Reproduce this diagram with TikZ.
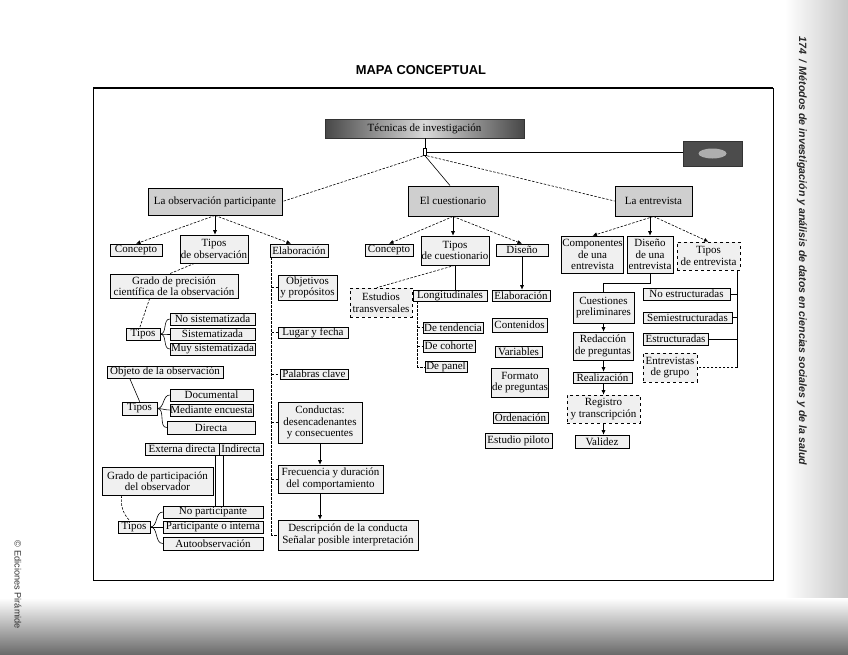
\documentclass[tikz,border=0pt]{standalone}
\usepackage{fontspec}
\setmainfont{Liberation Serif}
\newfontfamily\hsans{Liberation Sans}
\usetikzlibrary{arrows.meta,backgrounds,calc}
\tikzset{
  box/.style={draw=black, line width=0.6pt, fill=gray!12, inner sep=0.5pt, align=center,
    font=\fontsize{11}{11.5}\selectfont},
  mainbox/.style={fill=gray!38, line width=0.9pt},
  titlebox/.style={left color=black!72, right color=black!72, middle color=black!15, draw=black!80},
  darkbox/.style={fill=black!70, draw=black!80},
  dbox/.style={dashed},
  dsh/.style={dash pattern=on 2.5pt off 1.5pt, line width=0.6pt},
  ln/.style={line width=0.6pt},
  arr/.style={-{Latex[length=4.5pt,width=4pt]}},
}
\newcommand\bx[7][]{\node[box,#1,minimum width={(#4-#2)*1pt},minimum height={(#5-#3)*1pt}] (#6) at ({(#2+#4)/2},{(#3+#5)/2}) {#7};}
\begin{document}
\begin{tikzpicture}[x=1pt,y=-1pt]
\useasboundingbox (0,0) rectangle (848,654);
\fill[white] (0,0) rectangle (848,654);
\shade[left color=white, right color=black!22] (785,0) rectangle (848,600);
\shade[top color=white, bottom color=black!58] (0,598) rectangle (848,654);

% page texts
\node[font=\hsans\bfseries\fontsize{12.9}{14}\selectfont] (mt) at (421,70) {MAPA CONCEPTUAL};
\node[rotate=-90, font=\hsans\bfseries\itshape\fontsize{10.6}{12}\selectfont, text=black!85] (hdr) at (802,251)
  {174 \,/\, Métodos de investigación y análisis de datos en ciencias sociales y de la salud};
\node[rotate=-90, font=\hsans\fontsize{9.2}{10}\selectfont, text=black!80] (cpy) at (18,585) {© Ediciones Pirámide};

% frame
\draw[line width=0.9pt] (93,88) rectangle (773,580);
\draw[line width=1.6pt] (93,88) -- (773,88);

% top level
\bx[titlebox]{325}{119}{524}{138}{tec}{Técnicas de investigación}
\node[draw, fill=white, line width=0.6pt, minimum width=3.5pt, minimum height=7pt, inner sep=0pt] (jn) at (425,152) {};
\bx[darkbox]{683}{141}{742}{166}{rb}{}
\fill[white, opacity=0.55] (rb.center) ellipse (14pt and 5pt);
\bx[mainbox]{148}{188}{282}{215}{obs}{La observación participante}
\bx[mainbox]{408}{186}{498}{216}{cues}{El cuestionario}
\bx[mainbox]{615}{186}{692}{216}{ent}{La entrevista}

% observacion participante
\bx{110}{244}{162}{256}{con1}{Concepto}
\bx{180}{235}{248}{263}{tob}{Tipos\\de observación}
\bx{270}{244}{328}{257}{ela1}{Elaboración}
\bx{110}{274}{238}{298}{gpc}{Grado de precisión\\científica de la observación}
\bx{126}{328}{160}{340}{tA}{Tipos}
\bx{170}{313}{255}{325}{ns}{No sistematizada}
\bx{170}{328}{255}{340}{si}{Sistematizada}
\bx{170}{343}{255}{355}{ms}{Muy sistematizada}
\bx{122}{402}{157}{415}{tB}{Tipos}
\bx{170}{389}{253}{401}{doc}{Documental}
\bx{170}{404}{253}{416}{me}{Mediante encuesta}
\bx{167}{421}{255}{434}{dir}{Directa}
\bx{145}{443}{219}{455}{ed}{Externa directa}
\bx{219}{443}{263}{455}{ind}{Indirecta}
\bx{118}{521}{150}{533}{tC}{Tipos}
\bx{163}{506}{263}{518}{np}{No participante}
\bx{163}{521}{263}{533}{pi}{Participante o interna}
\bx{163}{537}{263}{550}{ao}{Autoobservación}

\begin{scope}[on background layer]
\draw[dsh] ([xshift=18pt]gpc.south west) .. controls (108,350) and (108,420) .. (122,467) coordinate (gpotop);
\end{scope}
\bx{107}{366}{223}{378}{obj}{Objeto de la observación}
\bx{102}{467}{213}{495}{gpo}{Grado de participación\\del observador}

% elaboracion column
\bx{278}{275}{337}{300}{obp}{Objetivos\\y propósitos}
\bx{278}{327}{348}{338}{luf}{Lugar y fecha}
\bx{280}{369}{348}{379}{pc}{Palabras clave}
\bx{278}{402}{362}{443}{cdc}{Conductas:\\desencadenantes\\y consecuentes}
\bx{278}{465}{383}{493}{fdc}{Frecuencia y duración\\del comportamiento}
\bx{278}{520}{418}{550}{dsc}{Descripción de la conducta\\Señalar posible interpretación}

% cuestionario
\bx{365}{244}{413}{256}{con2}{Concepto}
\bx{422}{236}{488}{265}{tcu}{Tipos\\de cuestionario}
\bx{496}{244}{548}{256}{dis2}{Diseño}
\bx[dbox]{350}{288}{412}{317}{etr}{Estudios\\transversales}
\bx{413}{290}{487}{301}{lon}{Longitudinales}
\bx{423}{322}{483}{333}{dte}{De tendencia}
\bx{423}{340}{475}{352}{dco}{De cohorte}
\bx{425}{362}{467}{372}{dpa}{De panel}
\bx{492}{290}{550}{301}{ela2}{Elaboración}
\bx{492}{318}{547}{332}{cnt}{Contenidos}
\bx{495}{346}{542}{357}{var}{Variables}
\bx{492}{368}{548}{397}{fdp}{Formato\\de preguntas}
\bx{493}{412}{548}{423}{ord}{Ordenación}
\bx{485}{433}{552}{448}{epi}{Estudio piloto}

% entrevista
\bx{562}{236}{623}{273}{cue}{Componentes\\de una\\entrevista}
\bx{627}{236}{673}{273}{due}{Diseño\\de una\\entrevista}
\bx[dbox]{677}{242}{740}{270}{tie}{Tipos\\de entrevista}
\bx{573}{292}{634}{323}{cpr}{Cuestiones\\preliminares}
\bx{643}{288}{730}{300}{nes}{No estructuradas}
\bx{643}{312}{732}{323}{ses}{Semiestructuradas}
\bx{643}{333}{708}{345}{est}{Estructuradas}
\bx[dbox]{643}{353}{697}{382}{edg}{Entrevistas\\de grupo}
\bx{573}{332}{633}{360}{rdp}{Redacción\\de preguntas}
\bx{573}{372}{632}{383}{rea}{Realización}
\bx[dbox]{567}{395}{640}{423}{ryt}{Registro\\y transcripción}
\bx{575}{435}{629}{448}{val}{Validez}

% ---- connectors: top
\draw[ln] (tec.south -| jn.north) -- (jn.north);
\draw[ln] (jn.east) -- (jn.east -| rb.west);
\draw[dsh] (jn.south west) -- (obs.east);
\draw[ln] (jn.south) -- ([xshift=-3pt]cues.north);
\draw[dsh] (jn.south east) -- (ent.west);

% observacion
\draw[dsh,arr] (obs.south) -- (con1.north);
\draw[ln,arr] (obs.south) -- (obs.south |- tob.north);
\draw[dsh,arr] (obs.south) -- ([xshift=-8pt]ela1.north);
\draw[dsh] ([xshift=15pt]tob.south west) -- ([xshift=60pt]gpc.north west);
\draw[dsh] ([xshift=40pt]gpc.south west) -- ([xshift=14pt]tA.north west);
\foreach \c in {ns,si,ms} \draw[ln] (tA.east) to[out=0,in=180] (\c.west);
\draw[ln] ([xshift=23pt]obj.south west) -- ([xshift=18pt]tB.north west);
\foreach \c in {doc,me,dir} \draw[ln] (tB.east) to[out=0,in=180] (\c.west);
\draw[dsh] ([xshift=20pt]gpo.south west) to[bend right=25] ([xshift=12pt]tC.north west);
\foreach \c in {np,pi,ao} \draw[ln] (tC.east) to[out=0,in=180] (\c.west);
\draw[ln] ([xshift=-4pt]ed.south east) -- ([xshift=-4pt]ed.south east |- np.north);
\draw[ln] ([xshift=5pt]ind.south west) -- ([xshift=5pt]ind.south west |- np.north);

% elaboracion
\coordinate (ev) at ([xshift=2pt]ela1.south west);
\draw[dsh] (ev) |- (dsc.west);
\foreach \c in {obp,luf,pc,cdc,fdc} \draw[dsh] (ev |- \c.west) -- (\c.west);
\draw[ln,arr] (cdc.south) -- (cdc.south |- fdc.north);
\draw[ln,arr] (cdc.south |- fdc.south) -- (cdc.south |- dsc.north);

% cuestionario
\draw[dsh,arr] (cues.south) -- (con2.north);
\draw[ln,arr] (cues.south) -- (cues.south |- tcu.north);
\draw[dsh,arr] (cues.south) -- (dis2.north);
\draw[dsh] (tcu.south) -- ([xshift=27pt]etr.north west);
\draw[ln] (tcu.south) -- (tcu.south |- lon.north);
\coordinate (lv) at ([xshift=5pt]lon.south west);
\draw[dsh] (lv) |- (dpa.west);
\foreach \c in {dte,dco} \draw[dsh] (lv |- \c.west) -- (\c.west);
\draw[ln,arr] (dis2.south) -- (dis2.south |- ela2.north);
\begin{scope}[on background layer]
\draw[ln] (ela2.south) -- (ela2.south |- epi.north);
\end{scope}

% entrevista
\draw[dsh,arr] (ent.south) -- (cue.north);
\draw[ln,arr] (ent.south -| due.north) -- (due.north);
\draw[dsh,arr] (ent.south) -- (tie.north);
\draw[ln] (due.south) -- ++(0,10) -| (cpr.north);
\draw[ln,arr] (cpr.south) -- (cpr.south |- rdp.north);
\draw[ln,arr] (cpr.south |- rdp.south) -- (cpr.south |- rea.north);
\draw[ln,arr] (cpr.south |- rea.south) -- (cpr.south |- ryt.north);
\draw[ln,arr] (cpr.south |- ryt.south) -- (cpr.south |- val.north);
\coordinate (tv) at ([xshift=-3pt]tie.south east);
\draw[ln] (tv) -- (tv |- edg.east);
\foreach \c in {nes,ses,est} \draw[ln] (tv |- \c.east) -- (\c.east);
\draw[dsh] (tv |- edg.east) -- (edg.east);
\end{tikzpicture}
\end{document}
